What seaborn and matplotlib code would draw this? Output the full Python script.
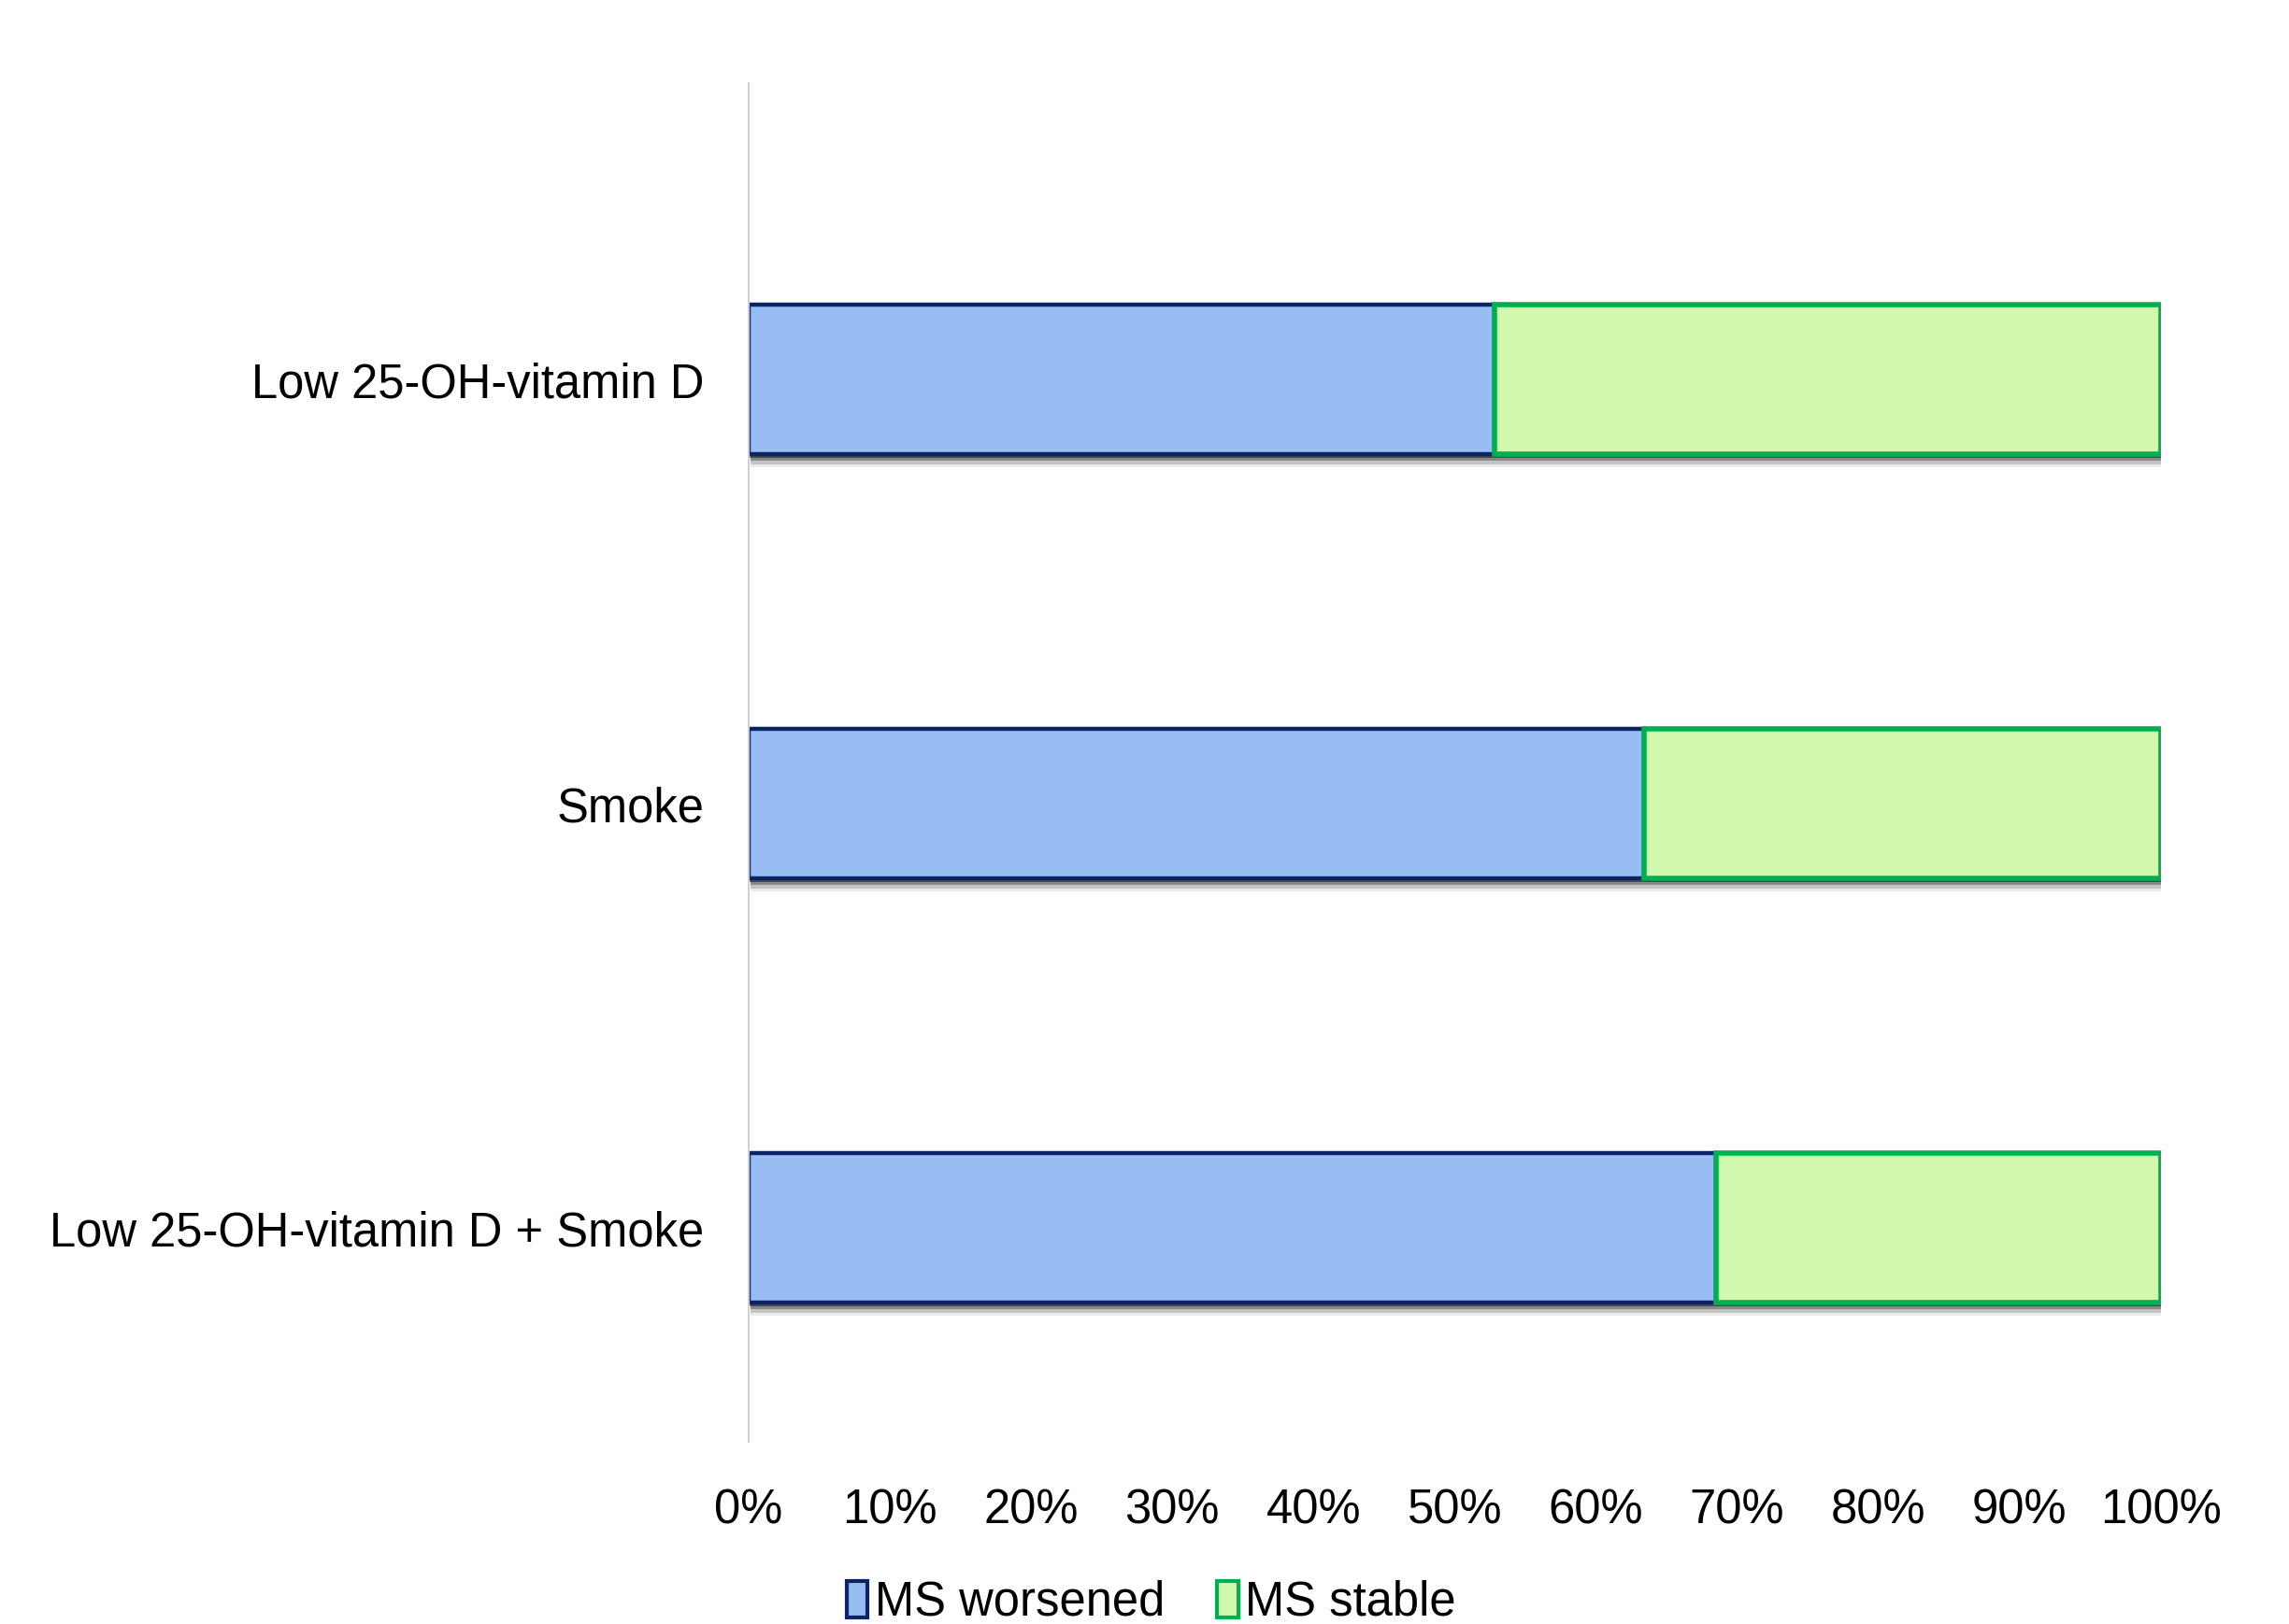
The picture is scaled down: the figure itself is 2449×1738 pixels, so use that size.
import matplotlib
matplotlib.use("Agg")
import matplotlib.pyplot as plt
import matplotlib.patheffects as pe
from matplotlib.patches import Patch
from matplotlib.ticker import PercentFormatter
import seaborn as sns
import pandas as pd

categories = ["Low 25-OH-vitamin D", "Smoke", "Low 25-OH-vitamin D + Smoke"]
worsened = [52.8, 63.4, 68.5]
stable = [100 - v for v in worsened]
series_names = ["MS worsened", "MS stable"]
xticks = [0, 10, 20, 30, 40, 50, 60, 70, 80, 90, 100]

blue_fill, blue_edge = "#97BDF3", "#0B2465"
green_fill, green_edge = "#D1F9AE", "#00B050"

sns.set_theme(style="white")
plt.rcParams["font.family"] = ["Liberation Sans", "DejaVu Sans"]
plt.rcParams["text.color"] = "black"
plt.rcParams["xtick.color"] = "black"
plt.rcParams["ytick.color"] = "black"

FS = 36.5

df = pd.DataFrame({"cat": categories, "worsened": worsened, "stable": stable})

fig = plt.figure(figsize=(24.49, 17.38), dpi=100)
ax = fig.add_axes([0.327, 0.1122, 0.944 - 0.327, 0.949 - 0.1122])

shadow = [
    pe.SimplePatchShadow(offset=(1, -2.5), shadow_rgbFace="#000000", alpha=0.45),
    pe.SimplePatchShadow(offset=(1.5, -5), shadow_rgbFace="#000000", alpha=0.30),
    pe.SimplePatchShadow(offset=(1.5, -7.5), shadow_rgbFace="#000000", alpha=0.17),
    pe.SimplePatchShadow(offset=(1.5, -10), shadow_rgbFace="#000000", alpha=0.08),
    pe.Normal(),
]

sns.barplot(data=df, y="cat", x="worsened", orient="h", ax=ax, color=blue_fill,
            edgecolor=blue_edge, linewidth=3.2, width=0.352, saturation=1)
n_blue = len(ax.patches)
sns.barplot(data=df, y="cat", x="stable", orient="h", ax=ax, color=green_fill,
            edgecolor=green_edge, linewidth=4.0, width=0.352, saturation=1)
for p, w in zip(ax.patches[n_blue:], worsened):
    p.set_x(w)
    p.set_zorder(3)
for p in ax.patches[:n_blue]:
    p.set_zorder(2)
for p in ax.patches:
    p.set_path_effects(shadow)

ax.set_xlim(0, 100)
ax.set_ylim(2.504, -0.70)
ax.set_xticks(xticks)
ax.xaxis.set_major_formatter(PercentFormatter(decimals=0))
ax.set_xlabel("")
ax.set_ylabel("")
ax.tick_params(axis="x", labelsize=FS, pad=36, length=0)
ax.tick_params(axis="y", labelsize=FS, pad=34, length=0)
for s in ["top", "right", "bottom"]:
    ax.spines[s].set_visible(False)
ax.spines["left"].set_color("#D0D0D0")
ax.spines["left"].set_linewidth(1.5)
ax.grid(False)

handles = [Patch(facecolor=blue_fill, edgecolor=blue_edge, linewidth=3),
           Patch(facecolor=green_fill, edgecolor=green_edge, linewidth=3)]
fig.legend(handles, series_names, loc="center", bbox_to_anchor=(0.503, 0.013),
           ncol=2, frameon=False, fontsize=FS, handlelength=0.45, handleheight=0.8,
           handletextpad=0.15, columnspacing=1.1)

fig.savefig("out.png", dpi=100)
